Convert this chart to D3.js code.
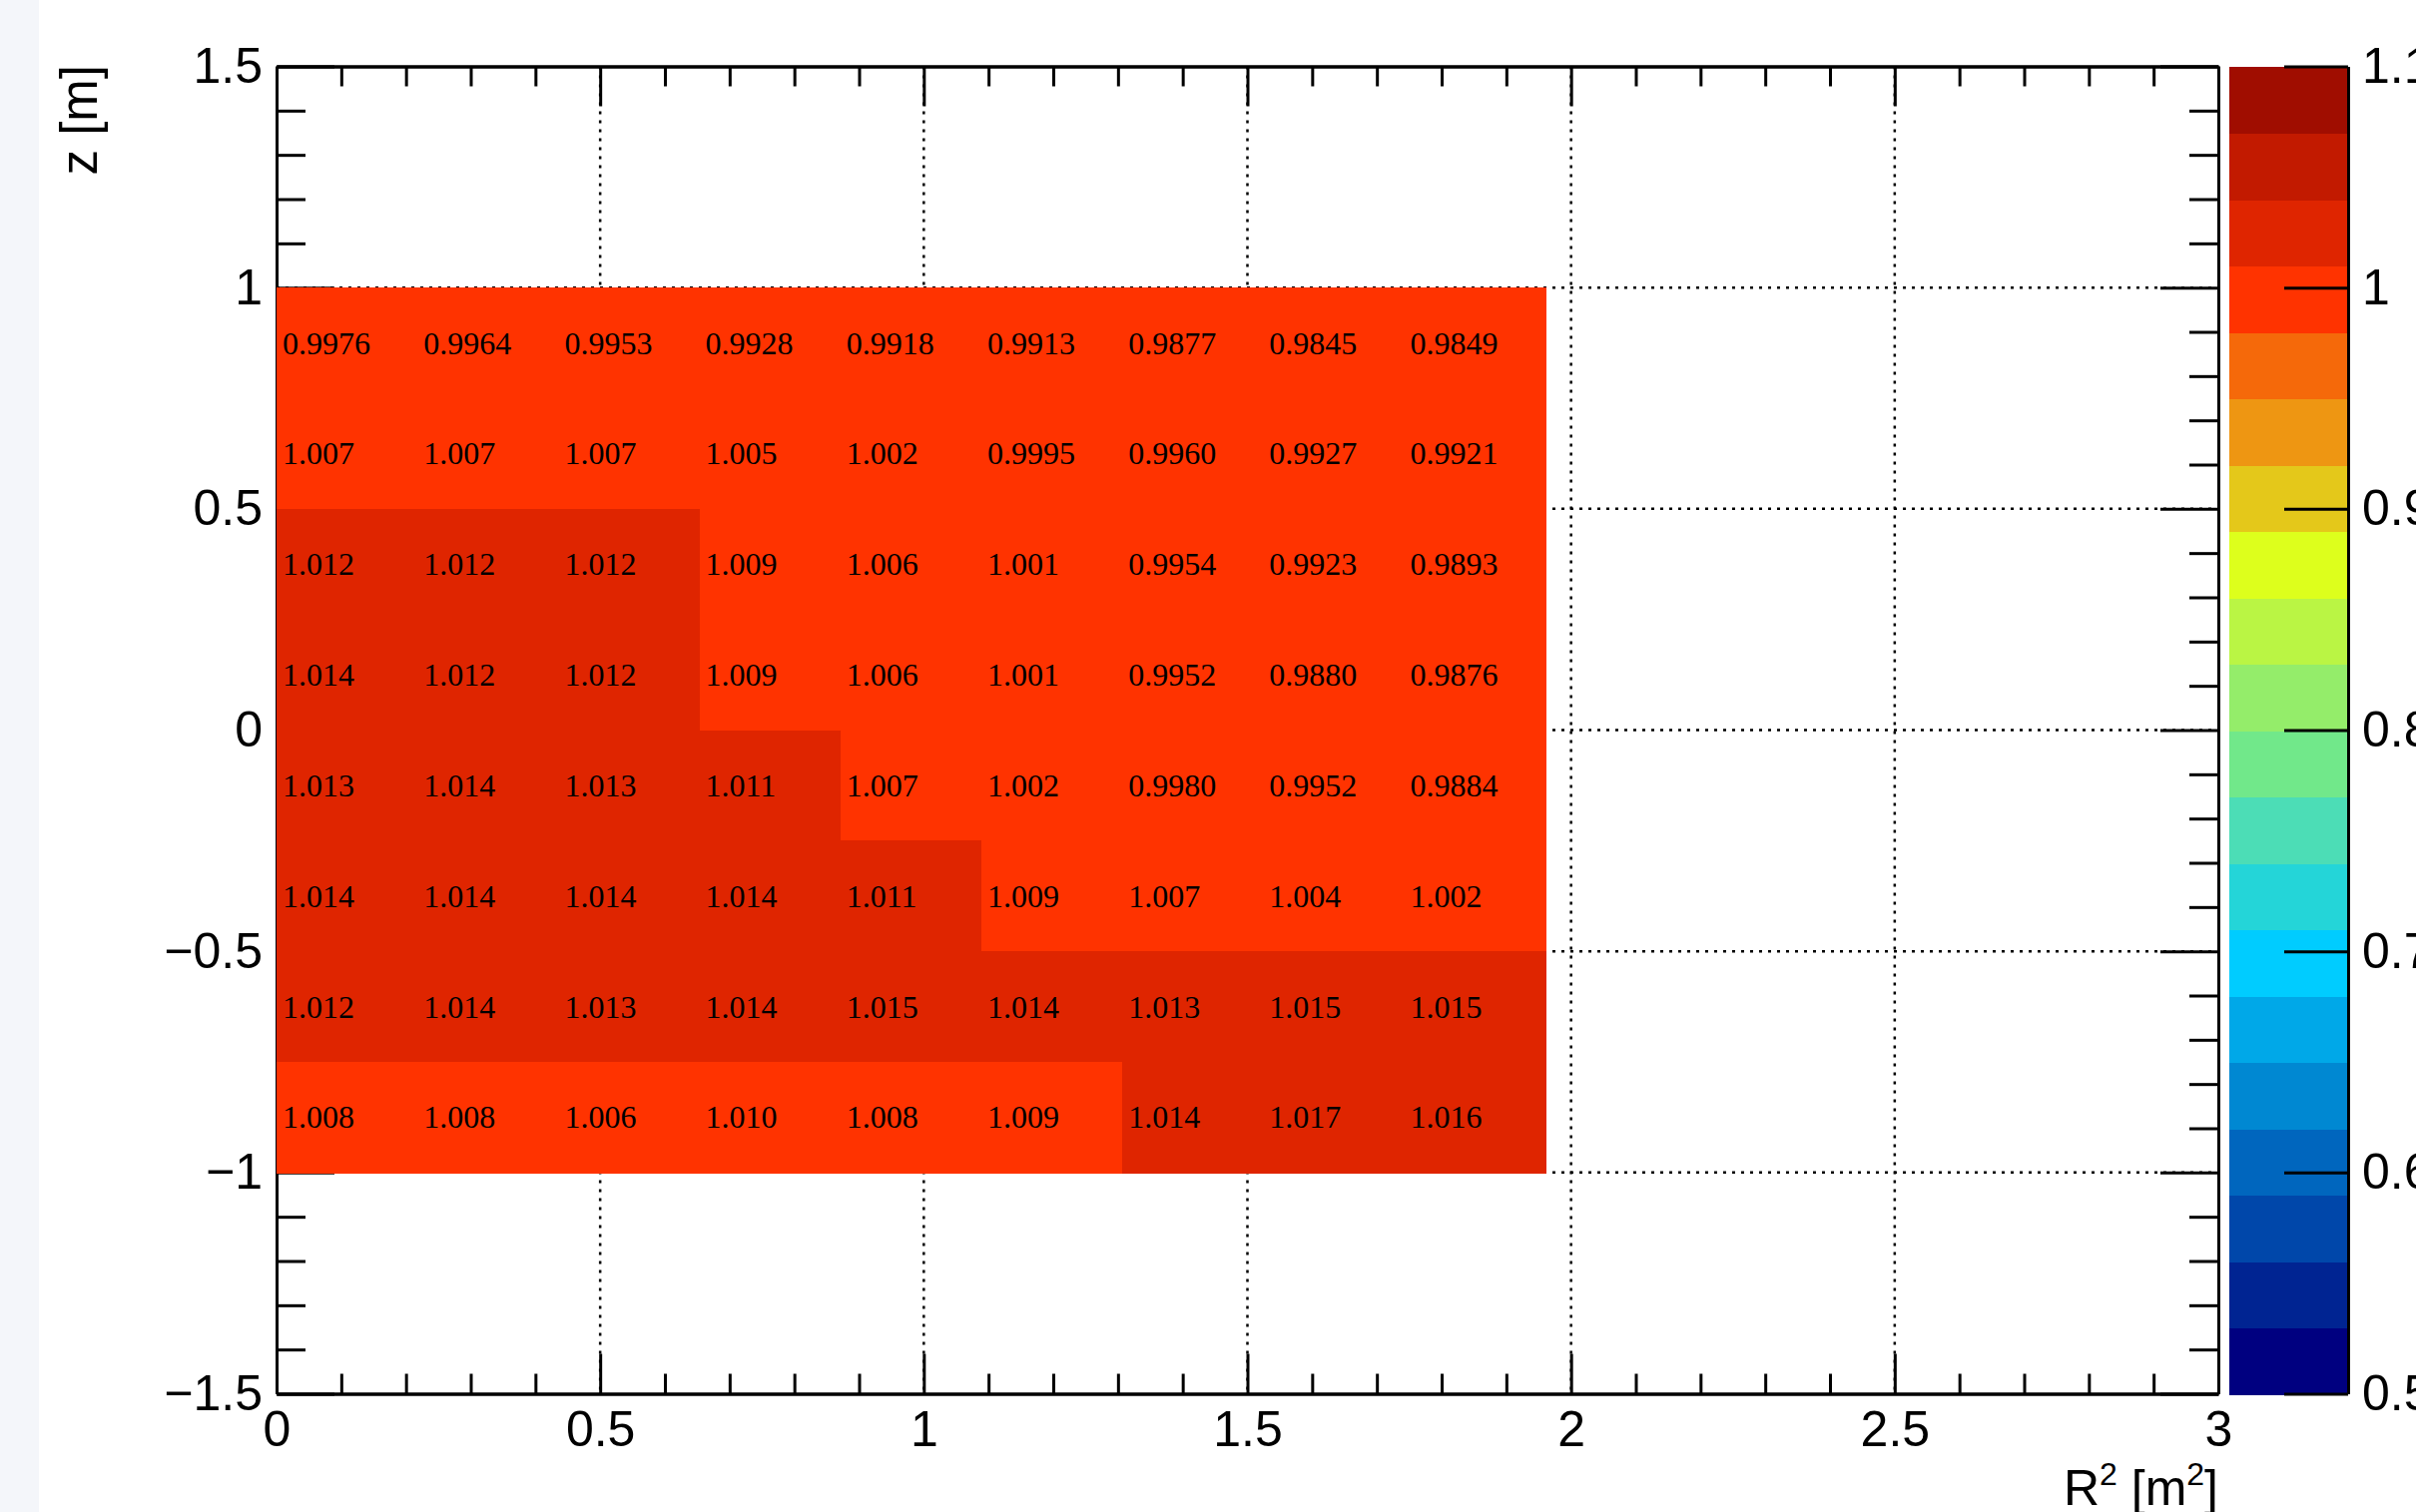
<!DOCTYPE html>
<html><head><meta charset="utf-8">
<script src="https://cdn.jsdelivr.net/npm/d3@7"></script>
<style>
html,body{margin:0;padding:0;background:#fff;}
svg{display:block;}
</style></head>
<body>
<svg id="chart" width="2420" height="1515"></svg>
<script>
// ---------- DATA ----------
// R^2 bin edges (9 bins, 0 .. 1.96 m^2) and z bin edges (8 bins, -1 .. 1 m)
const rEdges = [0, 0.2178, 0.4356, 0.6533, 0.8711, 1.0889, 1.3067, 1.5244, 1.7422, 1.96];
const zEdges = [-1, -0.75, -0.5, -0.25, 0, 0.25, 0.5, 0.75, 1];
// rows listed from top (z 0.75..1) to bottom (z -1..-0.75)
const row_z_0p75 = [0.9976, 0.9964, 0.9953, 0.9928, 0.9918, 0.9913, 0.9877, 0.9845, 0.9849];
const row_z_0p50 = [1.007, 1.007, 1.007, 1.005, 1.002, 0.9995, 0.9960, 0.9927, 0.9921];
const row_z_0p25 = [1.012, 1.012, 1.012, 1.009, 1.006, 1.001, 0.9954, 0.9923, 0.9893];
const row_z_0p00 = [1.014, 1.012, 1.012, 1.009, 1.006, 1.001, 0.9952, 0.9880, 0.9876];
const row_z_m0p25 = [1.013, 1.014, 1.013, 1.011, 1.007, 1.002, 0.9980, 0.9952, 0.9884];
const row_z_m0p50 = [1.014, 1.014, 1.014, 1.014, 1.011, 1.009, 1.007, 1.004, 1.002];
const row_z_m0p75 = [1.012, 1.014, 1.013, 1.014, 1.015, 1.014, 1.013, 1.015, 1.015];
const row_z_m1p00 = [1.008, 1.008, 1.006, 1.0099, 1.008, 1.009, 1.014, 1.017, 1.016];
const rowsTopDown = [row_z_0p75, row_z_0p50, row_z_0p25, row_z_0p00, row_z_m0p25, row_z_m0p50, row_z_m0p75, row_z_m1p00];

// colour contour levels (20 bands from 0.5 to 1.1) and palette (bottom -> top)
const contourLevels = [0.5, 0.53, 0.56, 0.59, 0.62, 0.65, 0.68, 0.71, 0.74, 0.77, 0.80, 0.83, 0.86, 0.89, 0.92, 0.95, 0.98, 1.01, 1.04, 1.07, 1.1];
const palette = ["#000080", "#002492", "#0047aa", "#0066be", "#0088d2", "#00a8e8", "#00ccff", "#24d5d8", "#4cddb6", "#71e88a",
                 "#94ed6a", "#baf544", "#ddff1c", "#e4c81a", "#ee9612", "#f5690a", "#ff3300", "#df2500", "#c21a00", "#a00d00"];

// axis ticks
const xMajorTicks = [0, 0.5, 1, 1.5, 2, 2.5, 3];
const yMajorTicks = [-1.5, -1, -0.5, 0, 0.5, 1, 1.5];
const xMinorTicks = [0.1,0.2,0.3,0.4,0.6,0.7,0.8,0.9,1.1,1.2,1.3,1.4,1.6,1.7,1.8,1.9,2.1,2.2,2.3,2.4,2.6,2.7,2.8,2.9];
const yMinorTicks = [-1.4,-1.3,-1.2,-1.1,-0.9,-0.8,-0.7,-0.6,-0.4,-0.3,-0.2,-0.1,0.1,0.2,0.3,0.4,0.6,0.7,0.8,0.9,1.1,1.2,1.3,1.4];
const xGrid = [0.5, 1, 1.5, 2, 2.5];
const yGrid = [-1, -0.5, 0, 0.5, 1];
const zTicks = [0.5, 0.6, 0.7, 0.8, 0.9, 1.0, 1.1];
const xTitle = "R";
const yTitle = "z [m]";

// ---------- LAYOUT ----------
const svg = d3.select("#chart");
const L = 277, R = 2222, T = 66.5, B = 1396.5;
const x = d3.scaleLinear().domain([0, 3]).range([L, R]);
const y = d3.scaleLinear().domain([-1.5, 1.5]).range([B, T]);
const cbL = 2233, cbR = 2352;
const cz = d3.scaleLinear().domain([0.5, 1.1]).range([B, T]);
const color = d3.scaleThreshold().domain(contourLevels.slice(1, -1)).range(palette);
const fmtAxis = d3.format("~g");
const fmtCell = d3.format(".4r");
const FONT = "'Liberation Sans', Arial, Helvetica, sans-serif";

// left grey strip
svg.append("rect").attr("x", 0).attr("y", 0).attr("width", 39).attr("height", 1515).attr("fill", "#f4f6fa");

// grid
const grid = svg.append("g").attr("stroke", "#000").attr("stroke-width", 2.5).attr("stroke-dasharray", "3,6");
grid.selectAll("line.gx").data(xGrid).join("line").attr("class", "gx")
  .attr("x1", d => x(d)).attr("x2", d => x(d)).attr("y1", T).attr("y2", B);
grid.selectAll("line.gy").data(yGrid).join("line").attr("class", "gy")
  .attr("y1", d => y(d)).attr("y2", d => y(d)).attr("x1", L).attr("x2", R);

// axes helpers
function styleAxis(g, labels) {
  g.selectAll("line").attr("stroke", "#000").attr("stroke-width", 3);
  g.selectAll("path.domain").attr("stroke", "#000").attr("stroke-width", 3);
  g.selectAll("text").attr("font-family", FONT).attr("font-size", 50).attr("fill", "#000");
  if (!labels) g.selectAll("text").remove();
}
const XMAJ = 40, XMIN = 20, YMAJ = 58, YMIN = 29;
// bottom
svg.append("g").attr("transform", `translate(0,${B})`)
  .call(d3.axisBottom(x).tickValues(xMajorTicks).tickFormat(fmtAxis).tickSizeInner(-XMAJ).tickSizeOuter(0).tickPadding(17))
  .call(g => styleAxis(g, true));
svg.append("g").attr("transform", `translate(0,${B})`)
  .call(d3.axisBottom(x).tickValues(xMinorTicks).tickFormat("").tickSizeInner(-XMIN).tickSizeOuter(0))
  .call(g => styleAxis(g, false));
// top
svg.append("g").attr("transform", `translate(0,${T})`)
  .call(d3.axisTop(x).tickValues(xMajorTicks).tickSizeInner(-XMAJ).tickSizeOuter(0))
  .call(g => styleAxis(g, false));
svg.append("g").attr("transform", `translate(0,${T})`)
  .call(d3.axisTop(x).tickValues(xMinorTicks).tickSizeInner(-XMIN).tickSizeOuter(0))
  .call(g => styleAxis(g, false));
// left
svg.append("g").attr("transform", `translate(${L},0)`)
  .call(d3.axisLeft(y).tickValues(yMajorTicks).tickFormat(fmtAxis).tickSizeInner(-YMAJ).tickSizeOuter(0).tickPadding(14))
  .call(g => styleAxis(g, true));
svg.append("g").attr("transform", `translate(${L},0)`)
  .call(d3.axisLeft(y).tickValues(yMinorTicks).tickFormat("").tickSizeInner(-YMIN).tickSizeOuter(0))
  .call(g => styleAxis(g, false));
// right
svg.append("g").attr("transform", `translate(${R},0)`)
  .call(d3.axisRight(y).tickValues(yMajorTicks).tickSizeInner(-YMAJ).tickSizeOuter(0))
  .call(g => styleAxis(g, false));
svg.append("g").attr("transform", `translate(${R},0)`)
  .call(d3.axisRight(y).tickValues(yMinorTicks).tickSizeInner(-YMIN).tickSizeOuter(0))
  .call(g => styleAxis(g, false));

// cells (drawn over frame like the reference)
const cells = [];
rowsTopDown.forEach((row, ri) => {
  const zi = zEdges.length - 2 - ri;
  row.forEach((v, ci) => cells.push({ v, x0: rEdges[ci], x1: rEdges[ci + 1], z0: zEdges[zi], z1: zEdges[zi + 1] }));
});
const cg = svg.append("g");
cg.selectAll("rect").data(cells).join("rect")
  .attr("shape-rendering", "crispEdges")
  .attr("x", d => Math.round(x(d.x0))).attr("y", d => Math.round(y(d.z1)))
  .attr("width", d => Math.round(x(d.x1)) - Math.round(x(d.x0)) + 1)
  .attr("height", d => Math.round(y(d.z0)) - Math.round(y(d.z1)) + 1)
  .attr("fill", d => color(d.v));
cg.selectAll("text").data(cells).join("text")
  .attr("x", d => x(d.x0) + 6).attr("y", d => (y(d.z0) + y(d.z1)) / 2 + 11)
  .attr("font-family", "'Liberation Serif', 'Times New Roman', serif").attr("font-size", 32)
  .attr("fill", "#000")
  .text(d => fmtCell(d.v));

// colour bar
const bands = palette.map((c, i) => ({ c, lo: contourLevels[i], hi: contourLevels[i + 1] }));
svg.append("g").selectAll("rect").data(bands).join("rect")
  .attr("shape-rendering", "crispEdges")
  .attr("x", cbL).attr("width", cbR - cbL)
  .attr("y", d => Math.round(cz(d.hi))).attr("height", d => Math.round(cz(d.lo)) - Math.round(cz(d.hi)) + 1)
  .attr("fill", d => d.c);
svg.append("g").attr("transform", `translate(${cbR},0)`)
  .call(d3.axisRight(cz).tickValues(zTicks).tickFormat(fmtAxis).tickSizeInner(-64).tickSizeOuter(0).tickPadding(14))
  .call(g => styleAxis(g, true));

// titles
svg.append("text").attr("transform", "translate(97,65) rotate(-90)")
  .attr("text-anchor", "end").attr("font-family", FONT).attr("font-size", 51).text(yTitle);
const xt = svg.append("text").attr("x", R).attr("y", 1508).attr("text-anchor", "end")
  .attr("font-family", FONT).attr("font-size", 50);
xt.append("tspan").text(xTitle);
xt.append("tspan").attr("font-size", 32).attr("dy", -20).text("2");
xt.append("tspan").attr("dy", 20).text(" [m");
xt.append("tspan").attr("font-size", 32).attr("dy", -20).text("2");
xt.append("tspan").attr("dy", 20).text("]");
</script>
</body></html>
